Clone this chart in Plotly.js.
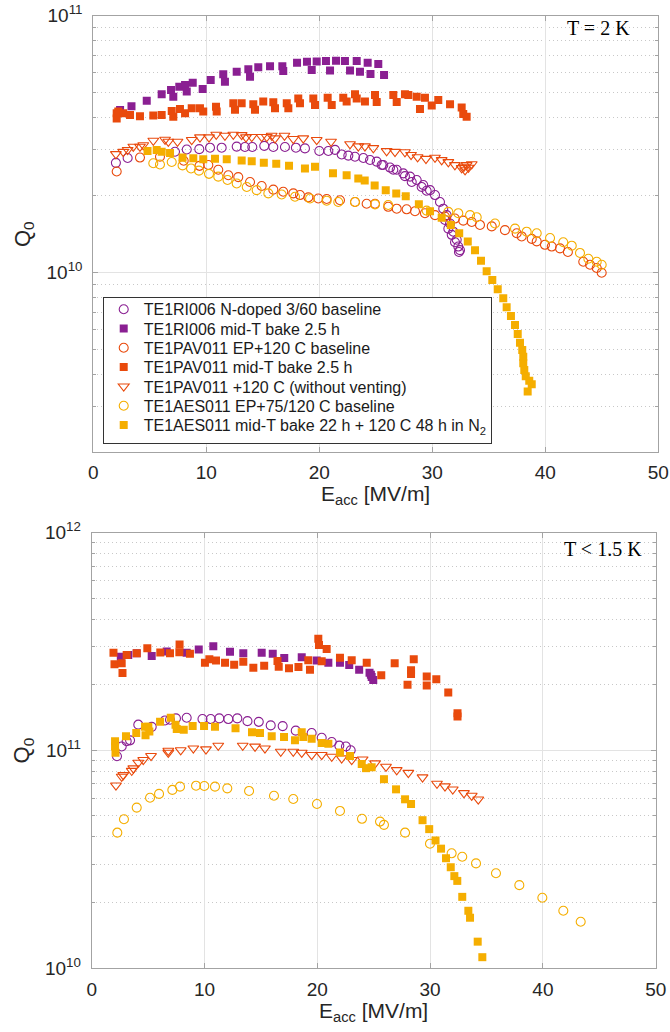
<!DOCTYPE html>
<html>
<head>
<meta charset="utf-8">
<script src="https://cdn.plot.ly/plotly-3.0.1.min.js"></script>
<style>
  html, body { margin: 0; padding: 0; background: #ffffff; }
  #chart { width: 670px; height: 1032px; }
</style>
</head>
<body>
<div id="chart"></div>
<script>
// ---------- Series names ----------
const names = [
  'TE1RI006 N-doped 3/60 baseline',
  'TE1RI006 mid-T bake 2.5 h',
  'TE1PAV011 EP+120 C baseline',
  'TE1PAV011 mid-T bake 2.5 h',
  'TE1PAV011 +120 C (without venting)',
  'TE1AES011 EP+75/120 C baseline',
  'TE1AES011 mid-T bake 22 h + 120 C 48 h in N<sub>2</sub>'
];

// ---------- T = 2 K ----------
const ri006_base_2K_E = [2.0, 3.04, 7.23, 8.27, 9.38, 10.33, 11.36, 12.69, 13.42, 14.07, 15.13, 15.93, 16.96, 17.93, 18.73, 20.0, 20.8, 21.39, 21.98, 22.57, 23.16, 23.9, 24.49, 25.08, 25.52, 25.66, 26.26, 26.55, 26.85, 27.43, 27.58, 28.03, 28.18, 28.62, 29.06, 29.2, 29.5, 29.8, 30.24, 30.68, 30.97, 31.12, 31.27, 31.42, 31.57, 31.72, 31.86, 32.01, 32.16, 32.3, 32.36, 32.45];
const ri006_base_2K_Q = [2.67e10, 2.79e10, 2.95e10, 3.01e10, 3.02e10, 3.06e10, 3.06e10, 3.09e10, 3.08e10, 3.08e10, 3.11e10, 3.08e10, 3.08e10, 3.06e10, 3.04e10, 2.97e10, 2.97e10, 3.0e10, 2.88e10, 2.85e10, 2.82e10, 2.79e10, 2.74e10, 2.70e10, 2.62e10, 2.62e10, 2.56e10, 2.51e10, 2.51e10, 2.43e10, 2.37e10, 2.36e10, 2.25e10, 2.29e10, 2.15e10, 2.19e10, 2.08e10, 2.09e10, 2.0e10, 1.88e10, 1.77e10, 1.6e10, 1.67e10, 1.48e10, 1.55e10, 1.40e10, 1.44e10, 1.31e10, 1.34e10, 1.26e10, 1.20e10, 1.22e10];

const ri006_midT_2K_E = [2.37, 3.38, 4.73, 6.05, 6.88, 7.08, 7.61, 8.12, 8.27, 8.8, 9.68, 10.39, 11.5, 11.65, 12.69, 13.72, 13.87, 14.6, 15.64, 16.73, 16.81, 18.03, 18.91, 19.33, 19.77, 20.59, 20.95, 21.48, 22.27, 22.72, 23.31, 23.6, 24.28, 24.53, 25.22, 25.73];
const ri006_midT_2K_Q = [4.29e10, 4.44e10, 4.66e10, 4.94e10, 5.13e10, 4.83e10, 5.29e10, 5.37e10, 5.06e10, 5.48e10, 5.18e10, 5.61e10, 5.91e10, 5.53e10, 6.05e10, 6.18e10, 5.78e10, 6.3e10, 6.35e10, 6.35e10, 6.09e10, 6.55e10, 6.61e10, 6.14e10, 6.63e10, 6.66e10, 6.11e10, 6.68e10, 6.66e10, 6.11e10, 6.66e10, 6.05e10, 6.56e10, 5.93e10, 6.49e10, 5.87e10];

const pav011_base_2K_E = [2.07, 4.13, 5.9, 8.0, 9.4, 10.18, 11.06, 11.95, 12.83, 13.87, 14.9, 15.93, 16.81, 17.7, 18.29, 19.03, 19.91, 20.65, 21.83, 23.16, 24.19, 24.93, 26.1, 26.85, 27.73, 28.47, 29.35, 30.24, 31.12, 32.0, 32.74, 33.49, 34.22, 35.26, 36.43, 37.47, 37.91, 38.8, 39.24, 39.97, 40.57, 41.3, 42.0, 43.36, 43.96, 44.55, 44.99];
const pav011_base_2K_Q = [2.47e10, 2.80e10, 2.82e10, 2.72e10, 2.60e10, 2.62e10, 2.51e10, 2.39e10, 2.35e10, 2.25e10, 2.17e10, 2.10e10, 2.06e10, 2.03e10, 2.0e10, 1.96e10, 1.94e10, 1.93e10, 1.91e10, 1.88e10, 1.85e10, 1.85e10, 1.80e10, 1.77e10, 1.76e10, 1.73e10, 1.70e10, 1.67e10, 1.65e10, 1.62e10, 1.59e10, 1.57e10, 1.53e10, 1.51e10, 1.46e10, 1.42e10, 1.38e10, 1.35e10, 1.32e10, 1.28e10, 1.26e10, 1.24e10, 1.20e10, 1.10e10, 1.07e10, 1.04e10, 9.96e9];

const pav011_midT_2K_E = [2.07, 2.07, 2.21, 2.65, 3.25, 4.13, 5.31, 6.05, 6.94, 7.08, 7.67, 8.12, 8.71, 9.44, 9.73, 10.86, 10.92, 12.39, 12.54, 13.13, 14.16, 14.31, 15.04, 15.93, 16.08, 17.12, 17.26, 18.14, 18.29, 19.47, 19.62, 20.74, 21.1, 22.12, 22.42, 23.16, 23.31, 24.04, 24.93, 25.08, 26.55, 26.85, 27.58, 27.88, 28.62, 28.91, 29.35, 29.95, 30.53, 31.57, 32.6, 32.74, 33.04];
const pav011_midT_2K_Q = [4.17e10, 3.98e10, 4.23e10, 4.17e10, 4.10e10, 4.06e10, 4.08e10, 4.10e10, 4.25e10, 4.04e10, 4.33e10, 4.17e10, 4.36e10, 4.36e10, 4.23e10, 4.42e10, 4.23e10, 4.56e10, 4.30e10, 4.56e10, 4.52e10, 4.30e10, 4.63e10, 4.60e10, 4.36e10, 4.56e10, 4.36e10, 4.76e10, 4.56e10, 4.76e10, 4.49e10, 4.79e10, 4.49e10, 4.79e10, 4.63e10, 4.94e10, 4.76e10, 4.63e10, 4.91e10, 4.61e10, 4.91e10, 4.61e10, 4.94e10, 4.91e10, 4.83e10, 4.33e10, 4.79e10, 4.47e10, 4.69e10, 4.52e10, 4.39e10, 4.14e10, 4.04e10];

const pav011_120C_2K_E = [2.0, 2.65, 3.04, 3.54, 4.13, 4.42, 5.31, 6.35, 6.64, 7.45, 8.71, 9.44, 10.24, 10.88, 11.65, 12.39, 13.13, 13.51, 14.02, 14.9, 15.35, 15.79, 16.08, 16.92, 17.7, 18.58, 19.77, 21.04, 22.72, 23.45, 24.04, 24.78, 25.96, 26.7, 27.58, 28.12, 28.7, 29.44, 30.24, 30.83, 31.42, 32.0, 32.6, 32.8, 32.9, 33.04, 33.2, 33.49];
const pav011_120C_2K_Q = [2.89e10, 2.95e10, 3.0e10, 3.09e10, 3.09e10, 3.13e10, 3.26e10, 3.29e10, 3.23e10, 3.23e10, 3.28e10, 3.36e10, 3.36e10, 3.44e10, 3.41e10, 3.44e10, 3.43e10, 3.36e10, 3.37e10, 3.37e10, 3.37e10, 3.41e10, 3.33e10, 3.41e10, 3.31e10, 3.33e10, 3.28e10, 3.23e10, 3.16e10, 3.10e10, 3.10e10, 3.05e10, 2.97e10, 2.95e10, 2.94e10, 2.87e10, 2.81e10, 2.77e10, 2.80e10, 2.74e10, 2.69e10, 2.62e10, 2.55e10, 2.58e10, 2.50e10, 2.62e10, 2.56e10, 2.64e10];

const aes011_base_2K_E = [5.31, 5.9, 6.94, 7.9, 8.65, 9.35, 10.24, 11.06, 11.88, 12.69, 13.58, 14.46, 15.49, 16.67, 17.85, 19.18, 20.65, 21.68, 23.16, 24.93, 26.1, 29.5, 31.42, 32.3, 33.34, 33.93, 35.55, 37.32, 38.35, 39.24, 40.42, 41.59, 42.34, 43.07, 43.81, 44.55, 44.99];
const aes011_base_2K_Q = [2.66e10, 2.63e10, 2.69e10, 2.61e10, 2.54e10, 2.49e10, 2.42e10, 2.36e10, 2.29e10, 2.22e10, 2.15e10, 2.09e10, 2.03e10, 2.01e10, 1.97e10, 1.94e10, 1.90e10, 1.88e10, 1.88e10, 1.84e10, 1.83e10, 1.74e10, 1.72e10, 1.70e10, 1.67e10, 1.64e10, 1.55e10, 1.48e10, 1.44e10, 1.42e10, 1.36e10, 1.31e10, 1.27e10, 1.19e10, 1.13e10, 1.10e10, 1.07e10];

const aes011_midT_2K_E = [4.8, 5.61, 6.05, 6.79, 7.9, 8.85, 9.73, 10.77, 11.81, 13.13, 14.02, 15.09, 16.19, 17.32, 18.73, 19.62, 21.21, 22.42, 23.45, 24.02, 24.9, 25.88, 26.81, 27.65, 28.81, 29.8, 30.83, 31.64, 32.38, 33.14, 33.78, 34.31, 34.81, 35.31, 35.79, 36.28, 36.58, 36.96, 37.32, 37.56, 37.76, 37.96, 38.05, 38.05, 38.14, 38.27, 38.58, 38.8, 38.44];
const aes011_midT_2K_Q = [2.97e10, 3.0e10, 2.95e10, 2.92e10, 2.80e10, 2.78e10, 2.76e10, 2.77e10, 2.76e10, 2.73e10, 2.71e10, 2.67e10, 2.65e10, 2.60e10, 2.54e10, 2.58e10, 2.43e10, 2.39e10, 2.32e10, 2.28e10, 2.18e10, 2.09e10, 2.03e10, 1.98e10, 1.84e10, 1.73e10, 1.63e10, 1.53e10, 1.42e10, 1.32e10, 1.22e10, 1.11e10, 1.01e10, 9.33e9, 8.59e9, 7.92e9, 7.31e9, 6.76e9, 6.24e9, 5.75e9, 5.32e9, 4.98e9, 4.69e9, 4.42e9, 4.16e9, 3.94e9, 3.78e9, 3.66e9, 3.43e9];

// ---------- T < 1.5 K ----------
const ri006_base_LT_E = [2.24, 2.66, 3.1, 3.4, 4.13, 5.32, 6.5, 6.94, 7.47, 8.42, 9.82, 10.55, 11.31, 12.11, 12.91, 13.81, 14.81, 15.87, 16.93, 18.09, 19.5, 20.39, 21.28, 21.95, 22.54, 22.96];
const ri006_base_LT_Q = [9.38e10, 1.04e11, 1.10e11, 1.11e11, 1.31e11, 1.28e11, 1.37e11, 1.38e11, 1.40e11, 1.41e11, 1.39e11, 1.39e11, 1.40e11, 1.39e11, 1.40e11, 1.36e11, 1.35e11, 1.30e11, 1.29e11, 1.23e11, 1.20e11, 1.14e11, 1.09e11, 1.05e11, 1.04e11, 1.0e11];

const ri006_midT_LT_E = [2.58, 3.24, 3.99, 5.32, 6.65, 8.42, 9.49, 10.78, 12.26, 13.44, 15.07, 16.05, 17.07, 18.62, 19.95, 20.98, 22.01, 22.83, 23.71, 24.63, 24.75, 24.82, 24.96];
const ri006_midT_LT_Q = [2.69e11, 2.74e11, 2.79e11, 2.71e11, 2.84e11, 2.80e11, 2.90e11, 3.0e11, 2.83e11, 2.79e11, 2.80e11, 2.77e11, 2.65e11, 2.67e11, 2.58e11, 2.52e11, 2.52e11, 2.46e11, 2.34e11, 2.27e11, 2.22e11, 2.17e11, 2.10e11];

const pav011_midT_LT_E = [1.93, 2.02, 2.66, 2.73, 3.1, 3.99, 4.93, 6.08, 6.94, 7.79, 7.77, 8.71, 10.04, 10.43, 11.02, 11.82, 12.63, 13.44, 14.33, 15.29, 16.47, 16.58, 17.49, 18.33, 19.2, 19.35, 20.09, 20.15, 20.83, 20.39, 22.01, 23.05, 24.38, 25.67, 26.86, 28.0, 28.31, 28.31, 28.55, 29.7, 29.7, 30.55, 31.61, 32.43, 32.43];
const pav011_midT_LT_Q = [2.80e11, 2.48e11, 2.51e11, 2.26e11, 2.74e11, 2.79e11, 2.94e11, 2.81e11, 2.79e11, 3.06e11, 2.82e11, 2.77e11, 2.52e11, 2.62e11, 2.58e11, 2.52e11, 2.47e11, 2.55e11, 2.39e11, 2.44e11, 2.57e11, 2.42e11, 2.38e11, 2.41e11, 2.59e11, 2.34e11, 3.25e11, 3.04e11, 2.92e11, 2.56e11, 2.66e11, 2.59e11, 2.52e11, 2.21e11, 2.51e11, 2.0e11, 2.33e11, 2.24e11, 2.62e11, 2.18e11, 1.98e11, 2.12e11, 1.84e11, 1.48e11, 1.43e11];

const pav011_120C_LT_E = [2.15, 2.66, 2.8, 3.55, 3.69, 4.13, 4.57, 5.26, 6.79, 6.79, 7.89, 9.01, 10.13, 11.22, 13.39, 14.48, 15.36, 16.76, 17.87, 18.62, 19.5, 20.39, 21.28, 22.16, 23.05, 24.02, 25.12, 26.09, 27.04, 28.07, 29.33, 30.61, 31.32, 32.01, 33.0, 33.69, 34.27];
const pav011_120C_LT_Q = [6.89e10, 7.56e10, 7.69e10, 8.05e10, 8.26e10, 8.77e10, 9.02e10, 9.41e10, 9.95e10, 9.74e10, 1.0e11, 1.02e11, 1.01e11, 1.05e11, 1.05e11, 1.04e11, 1.02e11, 9.85e10, 9.85e10, 9.74e10, 9.51e10, 9.51e10, 9.34e10, 9.18e10, 9.02e10, 9.08e10, 8.71e10, 8.4e10, 8.11e10, 7.88e10, 7.51e10, 7.02e10, 6.83e10, 6.61e10, 6.36e10, 6.18e10, 5.94e10];

const aes011_base_LT_E = [2.27, 2.86, 3.99, 5.17, 5.97, 7.15, 7.83, 9.25, 9.98, 10.93, 12.02, 13.95, 16.16, 17.87, 19.97, 22.01, 23.96, 25.56, 25.91, 27.78, 29.99, 31.91, 32.85, 34.07, 35.84, 37.91, 39.95, 41.81, 43.35];
const aes011_base_LT_Q = [4.18e10, 4.82e10, 5.45e10, 6.05e10, 6.30e10, 6.57e10, 6.80e10, 6.87e10, 6.85e10, 6.80e10, 6.68e10, 6.50e10, 6.18e10, 5.97e10, 5.66e10, 5.26e10, 4.84e10, 4.70e10, 4.54e10, 4.18e10, 3.72e10, 3.36e10, 3.24e10, 3.02e10, 2.72e10, 2.40e10, 2.10e10, 1.83e10, 1.63e10];

const aes011_midT_LT_E = [2.07, 2.07, 2.11, 3.04, 3.95, 4.73, 4.77, 5.02, 5.11, 6.06, 7.01, 7.43, 7.54, 8.16, 8.95, 9.96, 10.93, 12.75, 14.21, 14.92, 15.96, 17.05, 18.02, 18.62, 18.76, 19.5, 20.39, 20.98, 22.01, 22.9, 23.94, 24.32, 24.82, 25.91, 26.98, 27.78, 28.31, 29.33, 29.92, 30.48, 30.97, 31.41, 31.83, 32.15, 32.41, 32.85, 33.39, 33.54, 34.22, 34.63];
const aes011_midT_LT_Q = [1.10e11, 1.04e11, 9.74e10, 1.16e11, 1.20e11, 1.28e11, 1.17e11, 1.28e11, 1.22e11, 1.35e11, 1.41e11, 1.31e11, 1.25e11, 1.24e11, 1.29e11, 1.29e11, 1.28e11, 1.26e11, 1.21e11, 1.20e11, 1.16e11, 1.15e11, 1.11e11, 1.21e11, 1.15e11, 1.13e11, 1.08e11, 1.07e11, 9.75e10, 9.41e10, 8.64e10, 8.27e10, 8.35e10, 7.36e10, 6.61e10, 5.95e10, 5.66e10, 4.77e10, 4.34e10, 3.85e10, 3.53e10, 3.19e10, 2.90e10, 2.64e10, 2.51e10, 2.12e10, 1.83e10, 1.70e10, 1.32e10, 1.12e10];

// ---------- Axis ticks ----------
const xTicks = [0, 10, 20, 30, 40, 50];
const yTicksTop = [1e10, 1e11];
const yTickTextTop = ['10<sup>10</sup>', '10<sup>11</sup>'];
const yMinorTop = [3e9, 4e9, 5e9, 6e9, 7e9, 8e9, 9e9, 2e10, 3e10, 4e10, 5e10, 6e10, 7e10, 8e10, 9e10];
const yTicksBot = [1e10, 1e11, 1e12];
const yTickTextBot = ['10<sup>10</sup>', '10<sup>11</sup>', '10<sup>12</sup>'];
const yMinorBot = [2e10, 3e10, 4e10, 5e10, 6e10, 7e10, 8e10, 9e10, 2e11, 3e11, 4e11, 5e11, 6e11, 7e11, 8e11, 9e11];

// ---------- Marker styles ----------
const PURPLE = '#8A1F92';
const RED = '#E94A0C';
const YELLOW = '#F5AE00';

function openCircle(c) { return {symbol: 'circle-open', size: 9, color: c, line: {color: c, width: 1.1}}; }
function square(c) { return {symbol: 'square', size: 8, color: c, line: {width: 0}}; }
function openTri(c) { return {symbol: 'triangle-down-open', size: 9.5, color: c, line: {color: c, width: 1.1}}; }

const styles = [openCircle(PURPLE), square(PURPLE), openCircle(RED), square(RED), openTri(RED), openCircle(YELLOW), square(YELLOW)];

function series(idx, xs, ys, xa, ya, legend) {
  return {
    type: 'scatter', mode: 'markers', name: names[idx],
    x: xs, y: ys, xaxis: xa, yaxis: ya,
    marker: styles[idx], showlegend: legend, legendgroup: 'g' + idx,
    hoverinfo: 'skip'
  };
}

const data = [
  series(0, ri006_base_2K_E, ri006_base_2K_Q, 'x', 'y', true),
  series(1, ri006_midT_2K_E, ri006_midT_2K_Q, 'x', 'y', true),
  series(2, pav011_base_2K_E, pav011_base_2K_Q, 'x', 'y', true),
  series(3, pav011_midT_2K_E, pav011_midT_2K_Q, 'x', 'y', true),
  series(4, pav011_120C_2K_E, pav011_120C_2K_Q, 'x', 'y', true),
  series(5, aes011_base_2K_E, aes011_base_2K_Q, 'x', 'y', true),
  series(6, aes011_midT_2K_E, aes011_midT_2K_Q, 'x', 'y', true),
  series(0, ri006_base_LT_E, ri006_base_LT_Q, 'x2', 'y2', false),
  series(1, ri006_midT_LT_E, ri006_midT_LT_Q, 'x2', 'y2', false),
  series(3, pav011_midT_LT_E, pav011_midT_LT_Q, 'x2', 'y2', false),
  series(4, pav011_120C_LT_E, pav011_120C_LT_Q, 'x2', 'y2', false),
  series(5, aes011_base_LT_E, aes011_base_LT_Q, 'x2', 'y2', false),
  series(6, aes011_midT_LT_E, aes011_midT_LT_Q, 'x2', 'y2', false)
];

const FONT = 'Liberation Sans, Arial, sans-serif';
const AXIS_LINE = '#a3a3a3';
const GRID = '#e3e3e3';
const MINOR_GRID = '#c8c8c8';
const TICK_FONT = {family: FONT, size: 19, color: '#262626'};

function xAxis(domain, anchor) {
  return {
    domain: domain, anchor: anchor, range: [0, 50],
    tickmode: 'array', tickvals: xTicks,
    ticks: 'inside', ticklen: 5, tickcolor: AXIS_LINE, tickwidth: 1,
    showline: true, linecolor: AXIS_LINE, linewidth: 1, mirror: 'ticks',
    showgrid: true, gridcolor: GRID, gridwidth: 1,
    zeroline: false, tickfont: TICK_FONT, ticklabelstandoff: 4,
    automargin: false, fixedrange: true
  };
}

function yAxis(domain, anchor, range, tv, tt, minor) {
  return {
    type: 'log', domain: domain, anchor: anchor, range: range,
    tickmode: 'array', tickvals: tv, ticktext: tt,
    ticks: 'inside', ticklen: 5, tickcolor: AXIS_LINE, tickwidth: 1,
    showline: true, linecolor: AXIS_LINE, linewidth: 1, mirror: 'ticks',
    showgrid: true, gridcolor: GRID, gridwidth: 1,
    minor: {tickmode: 'array', tickvals: minor, ticks: 'inside', ticklen: 3, tickcolor: AXIS_LINE,
            showgrid: true, gridcolor: MINOR_GRID, griddash: '1px,3px', gridwidth: 1},
    zeroline: false, tickfont: TICK_FONT, ticklabelstandoff: 6,
    automargin: false, fixedrange: true
  };
}

const LEGEND_ROW = 19.3;   // vertical spacing of legend entries, px
const LEGEND_FIRST = 12.5; // centre of the first entry below the box top, px
const LEGEND_W = 388, LEGEND_H = 146;

const layout = {
  width: 670, height: 1032,
  margin: {l: 0, r: 0, t: 0, b: 0, pad: 0},
  paper_bgcolor: '#ffffff', plot_bgcolor: '#ffffff',
  font: {family: FONT, color: '#262626'},
  showlegend: true,
  xaxis: xAxis([0.13925, 0.98254], 'y'),
  yaxis: yAxis([0.56231, 0.98479], 'x', [Math.log10(2e9), 11], yTicksTop, yTickTextTop, yMinorTop),
  xaxis2: xAxis([0.13687, 0.97866], 'y2'),
  yaxis2: yAxis([0.06211, 0.48401], 'x2', [10, 12], yTicksBot, yTickTextBot, yMinorBot),
  legend: {
    x: 0.1533, y: 0.7125, xanchor: 'left', yanchor: 'top',
    xref: 'paper', yref: 'paper',
    bgcolor: '#ffffff', bordercolor: '#333333', borderwidth: 1,
    font: {family: FONT, size: 16, color: '#1a1a1a'},
    tracegroupgap: 0, itemclick: false, itemdoubleclick: false
  },
  annotations: [
    {text: 'T = 2 K', xref: 'paper', yref: 'paper', x: 0.9433, y: 0.97258, xanchor: 'right', yanchor: 'middle',
     showarrow: false, font: {family: 'Liberation Serif, Times New Roman, serif', size: 20, color: '#000000'}},
    {text: 'T &lt; 1.5 K', xref: 'paper', yref: 'paper', x: 0.9616, y: 0.468, xanchor: 'right', yanchor: 'middle',
     showarrow: false, font: {family: 'Liberation Serif, Times New Roman, serif', size: 20, color: '#000000'}},
    {text: 'E<sub>acc</sub> [MV/m]', xref: 'paper', yref: 'paper', x: 0.5609, y: 0.5205, xanchor: 'center', yanchor: 'middle',
     showarrow: false, font: {family: FONT, size: 21, color: '#262626'}},
    {text: 'E<sub>acc</sub> [MV/m]', xref: 'paper', yref: 'paper', x: 0.5578, y: 0.0195, xanchor: 'center', yanchor: 'middle',
     showarrow: false, font: {family: FONT, size: 21, color: '#262626'}},
    {text: 'Q<sub>0</sub>', xref: 'paper', yref: 'paper', x: 0.035, y: 0.7736, xanchor: 'center', yanchor: 'middle',
     textangle: -90, showarrow: false, font: {family: FONT, size: 22, color: '#262626'}},
    {text: 'Q<sub>0</sub>', xref: 'paper', yref: 'paper', x: 0.035, y: 0.2733, xanchor: 'center', yanchor: 'middle',
     textangle: -90, showarrow: false, font: {family: FONT, size: 22, color: '#262626'}}
  ]
};

Plotly.newPlot('chart', data, layout, {staticPlot: true, displayModeBar: false}).then(function (gd) {
  // Tighten the legend rows and size its box.
  const items = gd.querySelectorAll('.legend .traces');
  items.forEach(function (el, i) {
    const m = /translate\(\s*([-\d.]+)[ ,]+([-\d.]+)\s*\)/.exec(el.getAttribute('transform') || '');
    const x = m ? parseFloat(m[1]) : 1;
    el.setAttribute('transform', 'translate(' + x + ',' + (LEGEND_FIRST + i * LEGEND_ROW) + ')');
  });
  const bg = gd.querySelector('.legend rect.bg');
  if (bg) { bg.setAttribute('height', LEGEND_H); bg.setAttribute('width', LEGEND_W); }
  gd.querySelectorAll('.legend clipPath rect, defs clipPath[id*="legend"] rect').forEach(function (r) {
    r.setAttribute('height', LEGEND_H); r.setAttribute('width', LEGEND_W);
  });
});
</script>
</body>
</html>
